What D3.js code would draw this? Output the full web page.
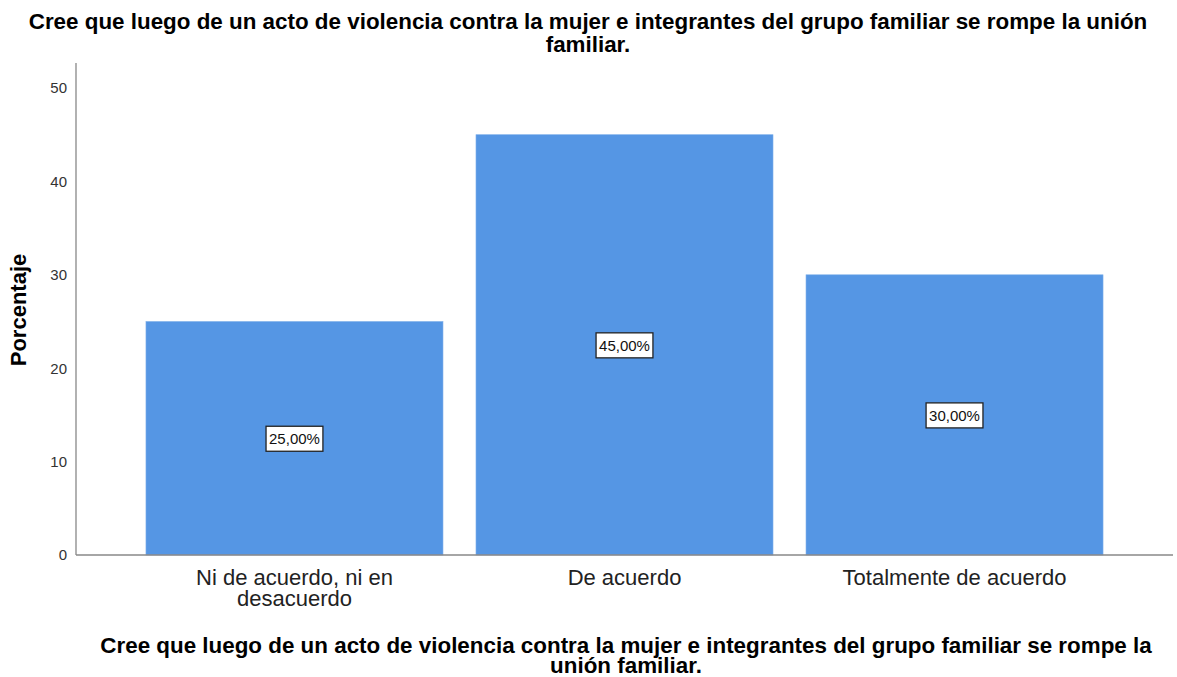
<!DOCTYPE html>
<html><head><meta charset="utf-8">
<script src="https://cdn.jsdelivr.net/npm/d3@7"></script>
<style>body{margin:0;background:#fff}svg{display:block}text{font-family:"Liberation Sans",Arial,sans-serif}</style>
</head><body>
<svg id="c" width="1177" height="677"></svg>
<script>
const categories = [["Ni de acuerdo, ni en", "desacuerdo"], ["De acuerdo"], ["Totalmente de acuerdo"]];
const values = [25, 45, 30];
const valueLabels = ["25,00%", "45,00%", "30,00%"];
const yTicks = [0, 10, 20, 30, 40, 50];
const titleLines = ["Cree que luego de un acto de violencia contra la mujer e integrantes del grupo familiar se rompe la unión", "familiar."];
const xTitleLines = ["Cree que luego de un acto de violencia contra la mujer e integrantes del grupo familiar se rompe la", "unión familiar."];
const yTitle = "Porcentaje";

(function () {
const svg = d3.select("#c");
const mLeft = 76, mRight = 1173, mTop = 63, mBottom = 555;
const keys = categories.map((d, i) => i);
const x = d3.scaleBand().domain(keys).range([mLeft, mRight]).paddingInner(0.1).paddingOuter(0.212);
const y = d3.scaleLinear().domain([0, 50]).range([mBottom, 88]);

// bars
svg.selectAll("rect.bar").data(values).join("rect").attr("class", "bar")
  .attr("x", (d, i) => x(i)).attr("width", x.bandwidth())
  .attr("y", d => y(d)).attr("height", d => y(0) - y(d))
  .attr("fill", "#5596E4").attr("stroke", "#7fb0ea").attr("stroke-width", 0.6);

// axes
const yAxis = svg.append("g").attr("transform", `translate(${mLeft},0)`)
  .call(d3.axisLeft(y).tickValues(yTicks).tickSize(0).tickPadding(9));
yAxis.select(".domain").remove();
yAxis.selectAll("text").attr("font-size", 15).attr("fill", "#333").attr("font-family", "Liberation Sans, Arial, sans-serif");
svg.append("line").attr("x1", mLeft).attr("x2", mLeft).attr("y1", mTop).attr("y2", mBottom).attr("stroke", "#888").attr("stroke-width", 1.3);
svg.append("line").attr("x1", mLeft).attr("x2", mRight).attr("y1", mBottom).attr("y2", mBottom).attr("stroke", "#888").attr("stroke-width", 1.3);

// category labels
categories.forEach((lines, i) => {
  const t = svg.append("text").attr("text-anchor", "middle").attr("font-size", 22).attr("fill", "#222")
    .attr("x", x(i) + x.bandwidth() / 2).attr("y", 585);
  lines.forEach((l, j) => t.append("tspan").attr("x", x(i) + x.bandwidth() / 2).attr("dy", j ? 21 : 0).text(l));
});

// value labels
values.forEach((v, i) => {
  const cx = x(i) + x.bandwidth() / 2, cy = y(v / 2);
  const g = svg.append("g");
  const t = g.append("text").attr("x", cx).attr("y", cy + 6).attr("text-anchor", "middle").attr("font-size", 15).attr("fill", "#111").text(valueLabels[i]);
  const bb = t.node().getBBox();
  g.insert("rect", "text").attr("x", bb.x - 3).attr("y", cy - 12).attr("width", bb.width + 6).attr("height", 25)
    .attr("fill", "#fff").attr("stroke", "#222").attr("stroke-width", 1.3);
});

// titles
titleLines.forEach((l, j) => svg.append("text").attr("x", 588).attr("y", 29 + j * 23).attr("text-anchor", "middle")
  .attr("font-size", 22.4).attr("font-weight", "bold").attr("fill", "#000").text(l));
xTitleLines.forEach((l, j) => svg.append("text").attr("x", 626).attr("y", 653 + j * 20).attr("text-anchor", "middle")
  .attr("font-size", 22.4).attr("font-weight", "bold").attr("fill", "#000").text(l));
svg.append("text").attr("transform", "translate(26,310) rotate(-90)").attr("text-anchor", "middle")
  .attr("font-size", 22).attr("font-weight", "bold").attr("fill", "#000").text(yTitle);
})();
</script>
</body></html>
